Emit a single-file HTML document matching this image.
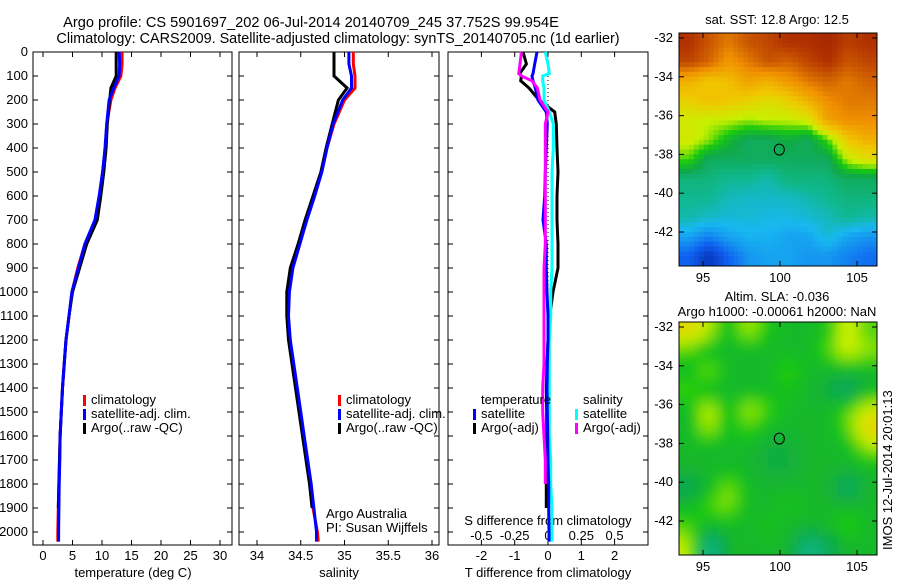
<!DOCTYPE html>
<html><head><meta charset="utf-8"><style>
body{margin:0;background:#fff;}
svg{display:block;font-family:"Liberation Sans",sans-serif;}
text{font-size:13px;fill:#000;}
</style></head><body>
<svg id="fig" width="900" height="580" viewBox="0 0 900 580" xmlns="http://www.w3.org/2000/svg">
<defs><filter id="blur" x="0" y="0" width="1" height="1"><feGaussianBlur stdDeviation="6"/></filter>
<clipPath id="clipTop"><rect x="679" y="33" width="198" height="233"/></clipPath>
<clipPath id="clipBot"><rect x="679" y="322" width="198" height="233"/></clipPath></defs>
<text x="311" y="27" text-anchor="middle" style="font-size:14.6px">Argo profile: CS 5901697_202 06-Jul-2014 20140709_245 37.752S 99.954E</text>
<text x="338" y="43" text-anchor="middle" style="font-size:14.4px">Climatology: CARS2009. Satellite-adjusted climatology: synTS_20140705.nc (1d earlier)</text>
<g id="layer"></g>
</svg>
<script>
const depths=[0,50,100,150,200,300,400,500,600,700,800,900,1000,1100,1200,1300,1400,1500,1600,1700,1800,1900,2000,2040];
const climT=[13.4,13.4,13.2,12.2,11.5,10.8,10.6,10.1,9.6,8.9,7.1,5.9,4.9,4.4,3.9,3.6,3.3,3.1,2.9,2.8,2.7,2.6,2.5,2.5];
const satT=[12.9,13.0,12.9,12.0,11.2,10.8,10.5,10.1,9.5,8.8,7.1,6.0,4.9,4.4,3.9,3.6,3.3,3.1,2.9,2.85,2.75,2.7,2.65,2.65];
const argoT=[12.4,12.4,12.4,11.5,11.3,10.9,10.7,10.3,9.8,9.2,7.4,6.2,5.0,4.4,3.9,3.6,3.3,3.1,2.9,2.8,2.7,2.6];
const climS=[35.1,35.1,35.12,35.12,35.0,34.88,34.8,34.74,34.65,34.56,34.48,34.4,34.36,34.35,34.37,34.41,34.45,34.49,34.53,34.57,34.61,34.64,34.69,34.7];
const satS=[35.05,35.05,35.08,35.08,34.98,34.87,34.8,34.74,34.66,34.57,34.49,34.41,34.37,34.36,34.38,34.42,34.46,34.5,34.54,34.58,34.62,34.65,34.68,34.68];
const argoS=[34.88,34.88,34.88,35.03,34.93,34.86,34.79,34.73,34.64,34.55,34.47,34.38,34.34,34.34,34.36,34.40,34.44,34.48,34.52,34.56,34.60,34.63];
const diffDepths=[0,50,90,100,120,150,200,250,300,400,500,600,700,800,900,1000,1100,1200,1300,1400,1500,1600,1700,1800,1900,2000,2040];
const satTdiff=[-0.33,-0.4,-0.45,-0.48,-0.45,-0.38,-0.3,-0.05,-0.02,-0.05,-0.08,-0.1,-0.15,-0.05,-0.05,-0.03,0,0,-0.02,-0.03,-0.02,-0.01,0,0.02,0.02,0.03,0.03];
const argoTdiff=[-0.75,-0.65,-0.85,-0.8,-0.82,-0.57,-0.27,0.2,0.25,0.27,0.3,0.27,0.27,0.3,0.3,0.15,0.05,0.0,-0.03,-0.05,-0.04,-0.04,-0.03,-0.05,-0.05];
const satSdiff=[-0.02,0,0.01,-0.04,-0.04,-0.03,-0.03,0.01,0.04,0.04,0.03,0.03,0.03,0.03,0.03,0.02,0.02,0.01,0.01,0.01,0.01,0.01,0.02,0.02,0.03,0.03,0.03];
const argoSdiff=[-0.2,-0.21,-0.22,-0.2,-0.12,-0.08,-0.06,0,-0.02,-0.02,-0.02,-0.02,-0.02,-0.02,-0.03,-0.03,-0.03,-0.03,-0.03,-0.04,-0.04,-0.03,-0.02,-0.02];
const depthTicks=[0,100,200,300,400,500,600,700,800,900,1000,1100,1200,1300,1400,1500,1600,1700,1800,1900,2000];
const tempTicks=[0,5,10,15,20,25,30];
const salTicks=[34,34.5,35,35.5,36];
const salTickLabels=["34","34.5","35","35.5","36"];
const tdTicks=[-2,-1,0,1,2];
const sdTicks=[-0.5,-0.25,0,0.25,0.5];
const sdTickLabels=["-0.5","-0.25","0","0.25","0.5"];
const lonTicks=[95,100,105];
const latTicks=[-32,-34,-36,-38,-40,-42];
const sstGrid=[
[0.95,0.9,0.85,0.9,0.92,0.95,0.95,0.97,0.93,0.95],
[0.92,0.88,0.8,0.85,0.9,0.88,0.92,0.95,0.9,0.92],
[0.75,0.7,0.72,0.78,0.75,0.8,0.85,0.88,0.85,0.88],
[0.68,0.72,0.7,0.68,0.65,0.68,0.75,0.82,0.85,0.85],
[0.62,0.6,0.6,0.58,0.6,0.6,0.62,0.78,0.82,0.82],
[0.62,0.58,0.5,0.45,0.45,0.48,0.45,0.55,0.7,0.75],
[0.55,0.45,0.45,0.45,0.45,0.45,0.45,0.45,0.6,0.65],
[0.42,0.42,0.4,0.4,0.38,0.42,0.42,0.42,0.45,0.45],
[0.4,0.4,0.37,0.36,0.36,0.36,0.38,0.4,0.42,0.42],
[0.38,0.36,0.35,0.35,0.34,0.34,0.35,0.37,0.4,0.38],
[0.3,0.25,0.3,0.32,0.32,0.3,0.3,0.35,0.3,0.28],
[0.2,0.1,0.2,0.28,0.3,0.3,0.28,0.28,0.25,0.22]];
const slaGrid=[
[0.66,0.6,0.5,0.6,0.52,0.5,0.5,0.52,0.62,0.55],
[0.55,0.5,0.5,0.5,0.5,0.5,0.5,0.55,0.62,0.58],
[0.5,0.58,0.5,0.5,0.5,0.55,0.5,0.5,0.5,0.5],
[0.55,0.5,0.5,0.5,0.5,0.52,0.5,0.48,0.42,0.5],
[0.5,0.62,0.5,0.6,0.55,0.5,0.5,0.5,0.55,0.62],
[0.5,0.6,0.5,0.55,0.5,0.5,0.5,0.5,0.55,0.68],
[0.5,0.5,0.5,0.5,0.48,0.48,0.5,0.5,0.5,0.58],
[0.5,0.5,0.5,0.5,0.48,0.48,0.5,0.5,0.5,0.5],
[0.45,0.5,0.58,0.5,0.5,0.5,0.5,0.5,0.42,0.5],
[0.5,0.55,0.58,0.5,0.5,0.52,0.5,0.5,0.5,0.5],
[0.55,0.5,0.5,0.5,0.52,0.5,0.5,0.5,0.55,0.5],
[0.6,0.38,0.5,0.5,0.5,0.5,0.4,0.45,0.5,0.5]];

const NS="http://www.w3.org/2000/svg";
const layer=document.getElementById('layer');
function mk(tag,attrs,parent){const e=document.createElementNS(NS,tag);for(const k in attrs)e.setAttribute(k,attrs[k]);(parent||layer).appendChild(e);return e;}
const yD=d=>52+d*0.24;
const xT=t=>43+t*5.9;
const xS=s=>257+(s-34)*87.5;
const xTd=t=>548+t*33.3;
const xSd=s=>548+s*133.2;
const PT=52,PB=545;
const panels=[[33,232],[239,439],[448,648]];

panels.forEach((p,i)=>{
 const r=mk('rect',{x:p[0],y:PT,width:p[1]-p[0],height:PB-PT,fill:'none',stroke:'#000','stroke-width':1});
 
 
 depthTicks.forEach(d=>{
  const t1=mk('line',{x1:p[0],x2:p[0]+5,y1:yD(d),y2:yD(d),stroke:'#000'});
  
  
  const t2=mk('line',{x1:p[1],x2:p[1]-5,y1:yD(d),y2:yD(d),stroke:'#000'});
  
  
 });
});
depthTicks.forEach(d=>{
 const t=mk('text',{x:28,y:yD(d)+4,'text-anchor':'end'});t.textContent=d;
 
 
});
function xticks(vals,labels,fx,p,ly){
 vals.forEach((v,i)=>{
  const x=fx(v);
  const a=mk('line',{x1:x,x2:x,y1:PB,y2:PB-5,stroke:'#000'});
  
  
  const b=mk('line',{x1:x,x2:x,y1:PT,y2:PT+5,stroke:'#000'});
  
  
  const t=mk('text',{x:x,y:ly,'text-anchor':'middle'});t.textContent=labels[i];
  
  
 });
}
xticks(tempTicks,tempTicks.map(String),xT,panels[0],560);
xticks(salTicks,salTickLabels,xS,panels[1],560);
xticks(tdTicks,tdTicks.map(String),xTd,panels[2],560);
sdTicks.forEach((v,i)=>{const t=mk('text',{x:xSd(v),y:540,'text-anchor':'middle'});t.textContent=sdTickLabels[i];
 
 });
function label(txt,x,y,name,anchor){const t=mk('text',{x:x,y:y,'text-anchor':anchor||'middle'});t.textContent=txt;
 
 return t;}
label('temperature (deg C)',133,577,'x-axis-title-temperature');
label('salinity',339,577,'x-axis-title-salinity');
label('T difference from climatology',548,577,'x-axis-title-t-diff');
label('S difference from climatology',548,525,'s-diff-axis-title');
label('Argo Australia',326,518,'credit-argo-australia','start');
label('PI: Susan Wijffels',326,532,'credit-pi','start');
const zl=mk('line',{x1:xTd(0),x2:xTd(0),y1:PT,y2:PB,stroke:'#000','stroke-dasharray':'1,3'});



function series(vals,dep,fx,color,name){
 const pts=vals.map((v,i)=>fx(v).toFixed(1)+','+yD(dep[i]).toFixed(1)).join(' ');
 const pl=mk('polyline',{points:pts,fill:'none',stroke:color,'stroke-width':3,'stroke-linejoin':'miter'});
 
 
}
series(climT,depths,xT,'#ff0000','temp-climatology-line');
series(argoT,depths,xT,'#000000','temp-argo-line');
series(satT,depths,xT,'#0000ff','temp-satellite-line');
series(climS,depths,xS,'#ff0000','sal-climatology-line');
series(argoS,depths,xS,'#000000','sal-argo-line');
series(satS,depths,xS,'#0000ff','sal-satellite-line');
series(argoTdiff,diffDepths,xTd,'#000000','tdiff-argo-line');
series(satSdiff,diffDepths,xSd,'#00ffff','sdiff-satellite-line');
series(satTdiff,diffDepths,xTd,'#0000ff','tdiff-satellite-line');
series(argoSdiff,diffDepths,xSd,'#ff00ff','sdiff-argo-line');

function legendEntry(x,y,color,txt,name){
 const r=mk('rect',{x:x,y:y-9,width:3,height:11,fill:color});
 
 
 label(txt,x+8,y,name,'start');
}
[[83],[338]].forEach((p,i)=>{
 legendEntry(p[0],404,'#ff0000','climatology','legend-climatology-'+(i+1));
 legendEntry(p[0],418,'#0000ff','satellite-adj. clim.','legend-satellite-'+(i+1));
 legendEntry(p[0],432,'#000000','Argo(..raw -QC)','legend-argo-'+(i+1));
});
label('temperature',481,404,'legend-title-temperature','start');
legendEntry(473,418,'#0000ff','satellite','legend-tdiff-satellite');
legendEntry(473,432,'#000000','Argo(-adj)','legend-tdiff-argo');
label('salinity',583,404,'legend-title-salinity','start');
legendEntry(575,418,'#00ffff','satellite','legend-sdiff-satellite');
legendEntry(575,432,'#ff00ff','Argo(-adj)','legend-sdiff-argo');

const cstops=[[0,[0,16,138]],[0.2,[16,96,240]],[0.33,[24,184,240]],[0.4,[16,184,144]],[0.47,[16,168,72]],[0.53,[24,200,16]],[0.6,[200,240,0]],[0.7,[240,200,0]],[0.82,[240,144,0]],[0.95,[176,48,0]],[1,[150,30,0]]];
function cmap(v){for(let i=1;i<cstops.length;i++){if(v<=cstops[i][0]){const a=cstops[i-1],b=cstops[i];const f=(v-a[0])/(b[0]-a[0]);const c=a[1].map((x,k)=>Math.round(x+(b[1][k]-x)*f));return 'rgb('+c.join(',')+')';}}return 'rgb(150,30,0)';}
function sample(grid,fr,fc){
 const rows=grid.length,cols=grid[0].length;
 const r=Math.min(rows-1,Math.max(0,fr)),c=Math.min(cols-1,Math.max(0,fc));
 const r0=Math.floor(r),c0=Math.floor(c),r1=Math.min(rows-1,r0+1),c1=Math.min(cols-1,c0+1);
 const dr=r-r0,dc=c-c0;
 return grid[r0][c0]*(1-dr)*(1-dc)+grid[r0][c1]*(1-dr)*dc+grid[r1][c0]*dr*(1-dc)+grid[r1][c1]*dr*dc;
}
function drawMap(grid,x0,y0,w,h,clip,blur,name,latTop,sub){
 const g=mk('g',{'clip-path':'url(#'+clip+')'});
 
 
 const inner=mk('g',blur?{filter:'url(#blur)'}:{},g);
 const rows=grid.length*sub,cols=grid[0].length*sub;
 const cw=w/cols,ch=h/rows;
 const pad=blur?sub:0;
 for(let r=-pad;r<rows+pad;r++)for(let c=-pad;c<cols+pad;c++){
  const v=sample(grid,(r+0.5)/sub-0.5,(c+0.5)/sub-0.5);
  const cell=mk('rect',{x:(x0+c*cw).toFixed(2),y:(y0+r*ch).toFixed(2),width:(cw+0.6).toFixed(2),height:(ch+0.6).toFixed(2),fill:cmap(v)},inner);
  
  
 }
 const fr=mk('rect',{x:x0,y:y0,width:w,height:h,fill:'none',stroke:'#000'});
 
 
 const xL=lon=>703+(lon-95)*15.4;
 const yL=lat=>latTop+(-32-lat)*19.4;
 lonTicks.forEach(l=>{
  const a=mk('line',{x1:xL(l),x2:xL(l),y1:y0+h,y2:y0+h-5,stroke:'#000'});
  
  
  const b=mk('line',{x1:xL(l),x2:xL(l),y1:y0,y2:y0+5,stroke:'#000'});
  
  
  label(String(l),xL(l),y0+h+16,'lon-tick-label');
 });
 latTicks.forEach(l=>{
  const a=mk('line',{x1:x0,x2:x0+5,y1:yL(l),y2:yL(l),stroke:'#000'});
  
  
  const b=mk('line',{x1:x0+w,x2:x0+w-5,y1:yL(l),y2:yL(l),stroke:'#000'});
  
  
  label(String(l),x0-6,yL(l)+4,'lat-tick-label','end');
 });
 const m=mk('ellipse',{cx:xL(99.954),cy:yL(-37.752),rx:5,ry:5.5,fill:'none',stroke:'#000'});
 
 
}
drawMap(sstGrid,679,33,198,233,'clipTop',false,'sst-map',38,4);
drawMap(slaGrid,679,322,198,233,'clipBot',true,'sla-map',327,2);
label('sat. SST: 12.8 Argo: 12.5',777,24,'sst-map-title');
label('Altim. SLA: -0.036',777,301,'sla-map-title-1');
label('Argo h1000: -0.00061 h2000: NaN',777,316,'sla-map-title-2');
const v=label('IMOS 12-Jul-2014 20:01:13',0,0,'imos-timestamp','start');
v.setAttribute('transform','translate(892,550) rotate(-90)');
</script>
</body></html>
